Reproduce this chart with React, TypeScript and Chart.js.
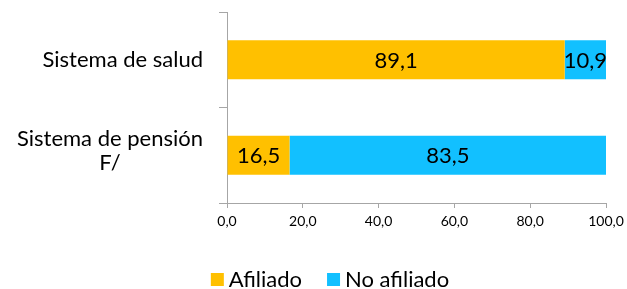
import React, { useEffect, useRef } from "react";
import { Chart, registerables } from "chart.js";

Chart.register(...registerables);

const categories: string[][] = [["Sistema de salud"], ["Sistema de pensión", "F/"]];
const afiliado = [89.1, 16.5];
const noAfiliado = [10.9, 83.5];
const xTicks = [0, 20, 40, 60, 80, 100];
const seriesNames = ["Afiliado", "No afiliado"];
const seriesColors = ["#FFC000", "#12C0FF"];

const FONT = "Lato, 'Open Sans', sans-serif";
const fmt = (v: number) => v.toFixed(1).replace(".", ",");

const labelsPlugin = {
  id: "customLabels",
  afterDatasetsDraw(chart: any) {
    const ctx = chart.ctx;
    ctx.save();
    // data labels
    ctx.font = `22px ${FONT}`;
    ctx.fillStyle = "#000";
    ctx.textAlign = "center";
    ctx.textBaseline = "middle";
    chart.data.datasets.forEach((ds: any, di: number) => {
      const meta = chart.getDatasetMeta(di);
      meta.data.forEach((bar: any, i: number) => {
        const { x, y, base } = bar.getProps(["x", "y", "base"], true);
        ctx.fillText(fmt(ds.data[i]), (x + base) / 2, y + 1);
      });
    });
    // category labels
    const yScale = chart.scales.y;
    const right = chart.chartArea.left - 24;
    const lh = 24;
    categories.forEach((lines, i) => {
      const cy = yScale.getPixelForValue(i);
      const maxW = Math.max(...lines.map((l) => ctx.measureText(l).width));
      const cx = right - maxW / 2;
      const top = cy - ((lines.length - 1) * lh) / 2 - (lines.length > 1 ? 4 : 0);
      lines.forEach((l, j) => ctx.fillText(l, cx, top + j * lh));
    });
    // legend
    const legendCenter = 330;
    const legendY = 279.5;
    const box = 13;
    const gapText = 5;
    const gapItem = 25;
    const widths = seriesNames.map((n) => box + gapText + ctx.measureText(n).width);
    const total = widths.reduce((a, b) => a + b, 0) + gapItem * (widths.length - 1);
    let lx = legendCenter - total / 2;
    ctx.textAlign = "left";
    seriesNames.forEach((n, i) => {
      ctx.fillStyle = seriesColors[i];
      ctx.fillRect(lx, legendY - box / 2, box, box);
      ctx.fillStyle = "#000";
      ctx.fillText(n, lx + box + gapText, legendY);
      lx += widths[i] + gapItem;
    });
    ctx.restore();
  },
};

export default function App() {
  const ref = useRef<HTMLCanvasElement>(null);
  useEffect(() => {
    if (!ref.current) return;
    const chart = new Chart(ref.current, {
      type: "bar",
      data: {
        labels: categories.map((c) => c.join(" ")),
        datasets: [
          { label: seriesNames[0], data: afiliado, backgroundColor: seriesColors[0], barPercentage: 0.41, categoryPercentage: 1 },
          { label: seriesNames[1], data: noAfiliado, backgroundColor: seriesColors[1], barPercentage: 0.41, categoryPercentage: 1 },
        ],
      },
      options: {
        indexAxis: "y",
        animation: false,
        responsive: false,
        maintainAspectRatio: false,
        layout: { padding: { left: 0, right: 21, top: 12, bottom: 0 } },
        plugins: {
          tooltip: { enabled: false },
          legend: { display: false },
        },
        scales: {
          x: {
            stacked: true,
            min: 0,
            max: 100,
            afterBuildTicks: (s: any) => {
              s.ticks = xTicks.map((v) => ({ value: v }));
            },
            afterFit: (s: any) => {
              s.height = 86;
              s.paddingRight = 0;
              s.paddingLeft = 0;
            },
            grid: { drawOnChartArea: false, drawTicks: true, tickLength: 5, color: "#A6A6A6" },
            border: { color: "#A6A6A6" },
            ticks: {
              font: { family: FONT, size: 14 },
              color: "#000",
              padding: 5,
              maxRotation: 0,
              callback: (v: any) => fmt(Number(v)),
            },
          },
          y: {
            stacked: true,
            afterFit: (s: any) => {
              s.width = 227;
            },
            grid: { drawOnChartArea: false, drawTicks: true, tickLength: 8, offset: true, color: "#A6A6A6" },
            border: { color: "#A6A6A6" },
            ticks: { display: false },
          },
        },
      },
      plugins: [labelsPlugin],
    });
    return () => chart.destroy();
  }, []);
  return (
    <div style={{ position: "absolute", left: 0, top: 0, width: 627, height: 289, background: "#fff" }}>
      <canvas ref={ref} width={627} height={289} />
    </div>
  );
}
